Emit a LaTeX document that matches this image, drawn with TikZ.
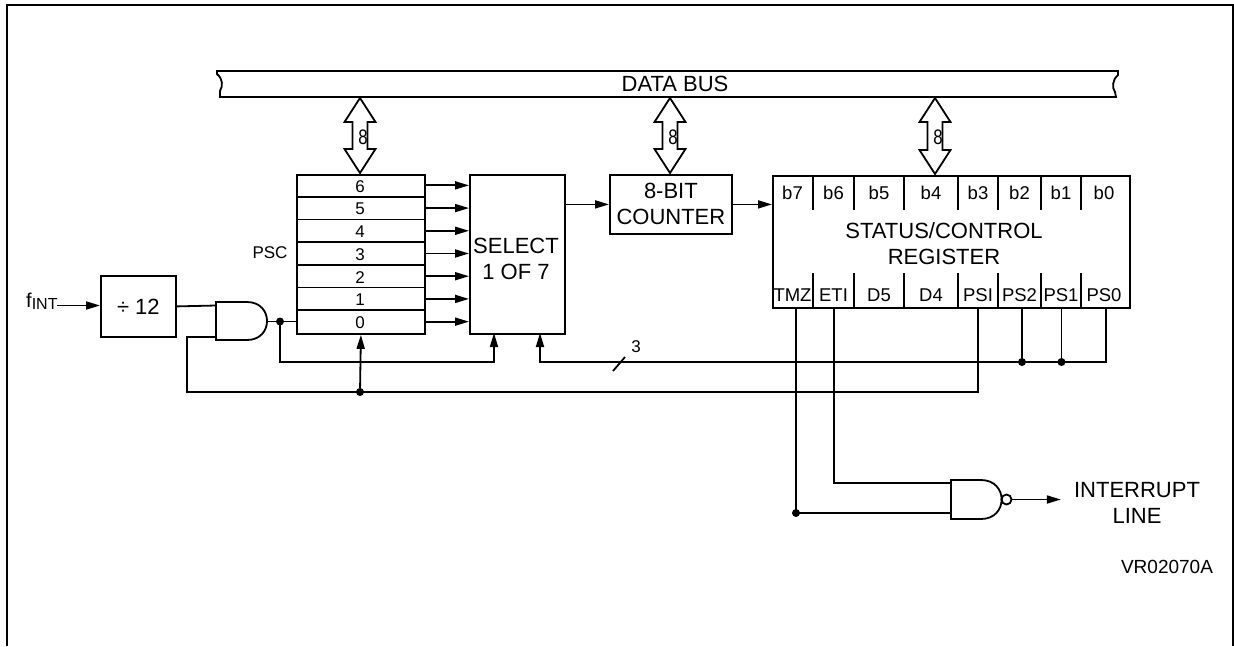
\documentclass[tikz,border=0pt]{standalone}
\usepackage{fontspec}
\setmainfont{Liberation Sans}
\usetikzlibrary{arrows.meta}
\newcommand\dblbus[3]{%
  \draw[ln,line join=miter] (#1,#2) -- ({#1+15.5},{#2+24}) -- ({#1+7.5},{#2+24}) -- ({#1+7.5},{#3-24}) -- ({#1+15.5},{#3-24}) -- (#1,#3) -- ({#1-15.5},{#3-24}) -- ({#1-7.5},{#3-24}) -- ({#1-7.5},{#2+24}) -- ({#1-15.5},{#2+24}) -- cycle;}
\begin{document}
\begin{tikzpicture}[x=1pt,y=-1pt,
  ln/.style={line width=1.8pt},
  box/.style={draw,line width=1.8pt,rectangle,inner sep=0pt,anchor=north west,align=center},
  big/.style={font=\fontsize{22}{26}\selectfont,inner sep=0pt,align=center},
  mid/.style={font=\fontsize{18.5}{20}\selectfont,inner sep=0pt},
  sml/.style={font=\fontsize{17}{19}\selectfont,inner sep=0pt},
  arr/.style={line width=1.8pt,-{Triangle[length=14pt,width=8pt]}},
  dotn/.style={circle,fill,inner sep=0pt,minimum size=8pt}]
\useasboundingbox (0,0) rectangle (1234,646);
% frame
\draw[ln] (7,646) -- (7,5) -- (1233,5) -- (1233,646);
% data bus
\draw[ln] (217,71) -- (1118,71) -- (1118,75) .. controls (1112,80) and (1112,88) .. (1115,92) -- (1116,97) -- (220,97) -- (220,91) .. controls (223,86) and (223,79) .. (217,74) -- cycle;
\node[big] (bus) at (675,84) {DATA BUS};
% boxes
\node[box,minimum width=128pt,minimum height=159pt] (psc) at (296,174) {};
\node[box,minimum width=95pt,minimum height=159pt] (sel) at (469,174) {};
\node[box,minimum width=122pt,minimum height=59pt,font=\fontsize{22}{26}\selectfont] (cnt) at (609,174) {8-BIT\\COUNTER};
\node[box,minimum width=357pt,minimum height=132pt] (reg) at (772,175) {};
\node[box,minimum width=75pt,minimum height=61pt,font=\fontsize{22}{26}\selectfont] (dv) at (100,275) {÷ 12};
\node[big] (seltxt) at (516,259) {SELECT\\1 OF 7};
\node[big] (regtxt) at (944,244) {STATUS/CONTROL\\REGISTER};
\node[sml] (psclbl) at (270,253) {PSC};
% bus arrows
\dblbus{360}{98}{173}
\dblbus{670}{98}{173}
\dblbus{935}{98}{174}
\node[font=\fontsize{21}{22}\selectfont,inner sep=0pt] (e1) at (363,137) {\scalebox{0.8}[1]{8}};
\node[font=\fontsize{21}{22}\selectfont,inner sep=0pt] (e2) at (673,137) {\scalebox{0.8}[1]{8}};
\node[font=\fontsize{21}{22}\selectfont,inner sep=0pt] (e3) at (938,137) {\scalebox{0.8}[1]{8}};
% psc rows
\foreach \i in {1,...,6} \draw[ln] (296,{174+\i*22.714}) -- (424,{174+\i*22.714});
\foreach \d [count=\k from 0] in {6,5,4,3,2,1,0} {
  \node[sml] (d\d) at (360,{174+12.5+\k*22.714}) {\d};
  \coordinate (r\d) at (424,{174+11.357+\k*22.714});
  \draw[arr] (r\d) -- (sel.west |- r\d);
}
% select -> counter -> register
\draw[arr] (sel.east |- cnt.west) -- (cnt.west);
\draw[arr] (cnt.east) -- (reg.west |- cnt.east);
% register cells
\foreach \x in {813,854,904,958,998,1041,1081} {
  \draw[ln] (\x,175) -- (\x,210);
  \draw[ln] (\x,273) -- (\x,307);
}
\foreach \t/\x in {b7/792.5,b6/833.5,b5/879,b4/931,b3/978,b2/1019.5,b1/1061,b0/1104}
  \node[mid] (t\t) at (\x,193) {\t};
\foreach \t/\x in {TMZ/792.5,ETI/833.5,D5/879,D4/931,PSI/978,PS2/1019.5,PS1/1061,PS0/1104}
  \node[mid] (l\t) at (\x,295) {\t};
% fINT and divider
\node[inner sep=0pt,anchor=base west] (fint) at (26,307) {\fontsize{20}{20}\selectfont f\raisebox{-2.5pt}{\fontsize{16}{16}\selectfont INT}};
\coordinate (fin) at (57,305.5);
\draw[arr] (fin) -- (dv.west |- fin);
% AND gate
\draw[ln] (247,302) -- (216,302) -- (216,340) -- (247,340) .. controls (273.7,340) and (273.7,302) .. (247,302);
\coordinate (and1) at (216,305.5);
\coordinate (and2) at (216,337);
\coordinate (andout) at (267,321.5);
\draw[ln] (dv.east) -- (and1);
\draw[ln] (andout) -- (psc.west |- andout);
\node[dotn] (j1) at (280,321.5) {};
\coordinate (k1) at (280,362);
\coordinate (sA) at (494,333);
\draw[arr] (j1.center) -- (k1) -| (sA);
% PS lines
\coordinate (ps0b) at (1106,307);
\coordinate (ps1b) at (1061.5,307);
\coordinate (ps2b) at (1022,307);
\coordinate (psib) at (978,307);
\coordinate (etib) at (834,307);
\coordinate (tmzb) at (796,307);
\coordinate (k2) at (1106,362);
\coordinate (sB) at (540,333);
\draw[arr] (ps0b) -- (k2) -| (sB);
\node[dotn] (j2) at (1022,362) {};
\node[dotn] (j3) at (1061.5,362) {};
\draw[ln] (ps2b) -- (j2.center);
\draw[ln] (ps1b) -- (j3.center);
\draw[ln] (613,371) -- (625,357);
\node[sml] (three) at (636,347) {3};
% PSI loop
\coordinate (k3) at (978,392);
\coordinate (k4) at (187,392);
\draw[ln] (psib) -- (k3) -- (k4) |- (and2);
\node[dotn] (j4) at (360,392) {};
\draw[arr] (j4.center) -- (psc.south);
% NAND gate
\draw[ln] (981,480) -- (951,480) -- (951,519) -- (981,519) .. controls (1008.5,519) and (1008.5,480) .. (981,480);
\draw[ln] (1006.5,499.5) circle[radius=5];
\coordinate (nand1) at (951,483);
\coordinate (nand2) at (951,513);
\coordinate (nout) at (1011.5,499.5);
\node[dotn] (j5) at (796,513) {};
\draw[ln] (tmzb) -- (j5.center) -- (nand2);
\draw[ln] (etib) |- (nand1);
\node[big] (intl) at (1137,503) {INTERRUPT\\LINE};
\draw[arr] (nout) -- (intl.west |- nout) [shorten >=13pt];
\node[font=\fontsize{19}{21}\selectfont,inner sep=0pt] (vr) at (1167,567) {VR02070A};
\end{tikzpicture}
\end{document}
